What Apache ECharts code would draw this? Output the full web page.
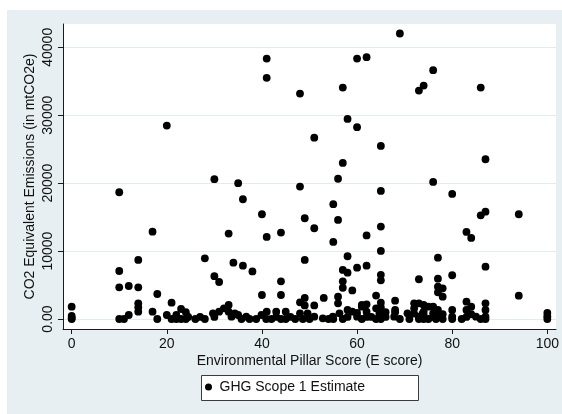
<!DOCTYPE html>
<html><head><meta charset="utf-8">
<script src="https://cdn.jsdelivr.net/npm/echarts@6/dist/echarts.min.js"></script>
<style>html,body{margin:0;padding:0;background:#fff}#c{width:562px;height:414px}</style>
</head><body><div id="c"></div>
<script>
const xTicks = [0, 20, 40, 60, 80, 100];
const yTicks = [0, 10000, 20000, 30000, 40000];
const seriesName = 'GHG Scope 1 Estimate';
const xTitle = 'Environmental Pillar Score (E score)';
const yTitle = 'CO2 Equivalent Emissions (in mtCO2e)';

const eScore = [
  10,17,14,10,20,30,35,36,33,28,34,36,38,30,31,40,41,41,41,44,44,48,48,49,49,51,51,55,55,56,56,57,57,57,57,58,58,58,60,60,60,62,62,62,65,65,65,65,65,65,69,73,74,73,76,76,77,77,80,80,83,84,86,86,87,87,87,94,
  10,12,14,18,14,14,14,21,17,0,23,24,33,33,32,31,40,44,41,43,45,49,48,49,51,53,56,56,57,59,62,61,61,64,64,65,65,65,68,68,72,72,73,74,74,75,76,77,77,78,77,78,80,83,83,84,87,87,94,100,62,58,59,48,
  0,0,0,10,11,12,18,20,21,22,22,23,24,24.5,26,27,28,29.7,30,33.6,34.3,35,35.7,36.7,37.4,38.8,39.9,40.9,42,43,44,45,46,47,48.6,49.6,51,52.8,54,54.9,56.3,57,58,60,61,63,64.7,65,66,67.8,69,70.6,71,73,73.8,73,74,75,76,76.6,77,78,80,80,82,83,85,86,87,87,100,100,
  72,74,77,76,78,66,60,55,50,62,64,68,84
];
const ghgScope1 = [
  18660,12860,8690,7070,28470,20580,20000,17630,12570,8940,8290,7850,7000,6300,5450,15420,12080,38340,35500,12720,5550,33190,19490,14830,8690,26700,13360,16900,11340,20650,14580,34070,22980,7220,5550,29460,9240,6820,38340,28240,7560,38540,12300,7850,25480,18850,13600,10020,6500,5700,42030,33630,34370,5850,36630,20180,9030,5940,18410,6440,12820,11930,34070,15270,15800,23520,7700,15420,
  4670,4860,4670,3680,2310,1720,1080,2400,1080,1810,1470,1000,2060,1080,1570,1080,3530,3530,1080,1080,1080,3100,2450,2000,2000,3100,3290,2310,4600,4200,2160,2060,1810,3450,1570,2400,1700,1100,2700,1330,2310,1570,2310,2060,1080,1810,1810,1330,4760,4520,3930,3290,1330,2550,1330,1810,2310,1330,3430,880,1080,1330,1080,840,
  440,0,150,0,0,590,0,590,0,590,0,0,0,300,0,300,0,840,300,340,840,590,0,340,0,0,590,0,0,300,0,0,300,0,0,840,340,100,0,340,840,0,300,340,0,300,840,0,300,340,0,840,0,340,840,0,0,0,840,0,340,700,340,0,0,300,340,0,340,0,400,0,
  800,600,800,300,0,1000,900,0,0,300,0,1000,700
];

const points = eScore.map((x, i) => [x, ghgScope1[i]]);
const FONT = '"Liberation Sans", Arial, sans-serif';

const chart = echarts.init(document.getElementById('c'), null, {renderer: 'canvas'});
chart.setOption({
  animation: false,
  backgroundColor: '#e8eff2',
  textStyle: {fontFamily: FONT},
  graphic: [
    {type: 'rect', silent: true, shape: {x: 0, y: 0, width: 562, height: 10}, style: {fill: '#ffffff'}},
    {type: 'rect', silent: true, shape: {x: 0, y: 0, width: 7, height: 414}, style: {fill: '#ffffff'}},
    {type: 'rect', silent: true, shape: {x: 201.5, y: 375.5, width: 217, height: 25}, style: {fill: '#ffffff', stroke: '#3c3c3c', lineWidth: 1}}
  ],
  grid: {left: 63, top: 24, width: 494, height: 305, show: true, backgroundColor: '#ffffff', borderWidth: 0},
  xAxis: {
    type: 'value', min: -1.825, max: 101.83,
    axisLine: {show: true, onZero: false, lineStyle: {color: '#1a1a1a', width: 1}},
    axisTick: {show: true, length: 5, customValues: xTicks, lineStyle: {color: '#1a1a1a'}},
    axisLabel: {customValues: xTicks, color: '#111', fontSize: 14, margin: 8, fontFamily: FONT},
    splitLine: {show: false},
    name: xTitle, nameLocation: 'middle', nameGap: 25, nameMoveOverlap: false,
    nameTextStyle: {fontSize: 14, color: '#111', fontFamily: FONT}
  },
  yAxis: {
    type: 'value', min: -1472, max: 43430,
    axisLine: {show: true, onZero: false, lineStyle: {color: '#1a1a1a', width: 1}},
    axisTick: {show: true, length: 5, customValues: yTicks, lineStyle: {color: '#1a1a1a'}},
    axisLabel: {customValues: yTicks, rotate: 90, color: '#111', fontSize: 14, margin: 8, fontFamily: FONT,
      formatter: v => (v === 0 ? '0.00' : String(v))},
    splitLine: {show: true, lineStyle: {color: '#e4ebee', width: 1}},
    name: yTitle, nameLocation: 'middle', nameGap: 26, nameRotate: 90, nameMoveOverlap: false,
    nameTextStyle: {fontSize: 14, color: '#111', fontFamily: FONT}
  },
  legend: {
    show: true, left: 205, top: 380, padding: 0, icon: 'circle',
    itemWidth: 12, itemHeight: 7, itemGap: 10,
    textStyle: {fontSize: 14, color: '#111', fontFamily: FONT},
    data: [seriesName]
  },
  series: [{
    type: 'scatter', name: seriesName, data: points, symbolSize: 7.8,
    itemStyle: {color: '#000000', opacity: 1}
  }]
});
</script>
</body></html>
